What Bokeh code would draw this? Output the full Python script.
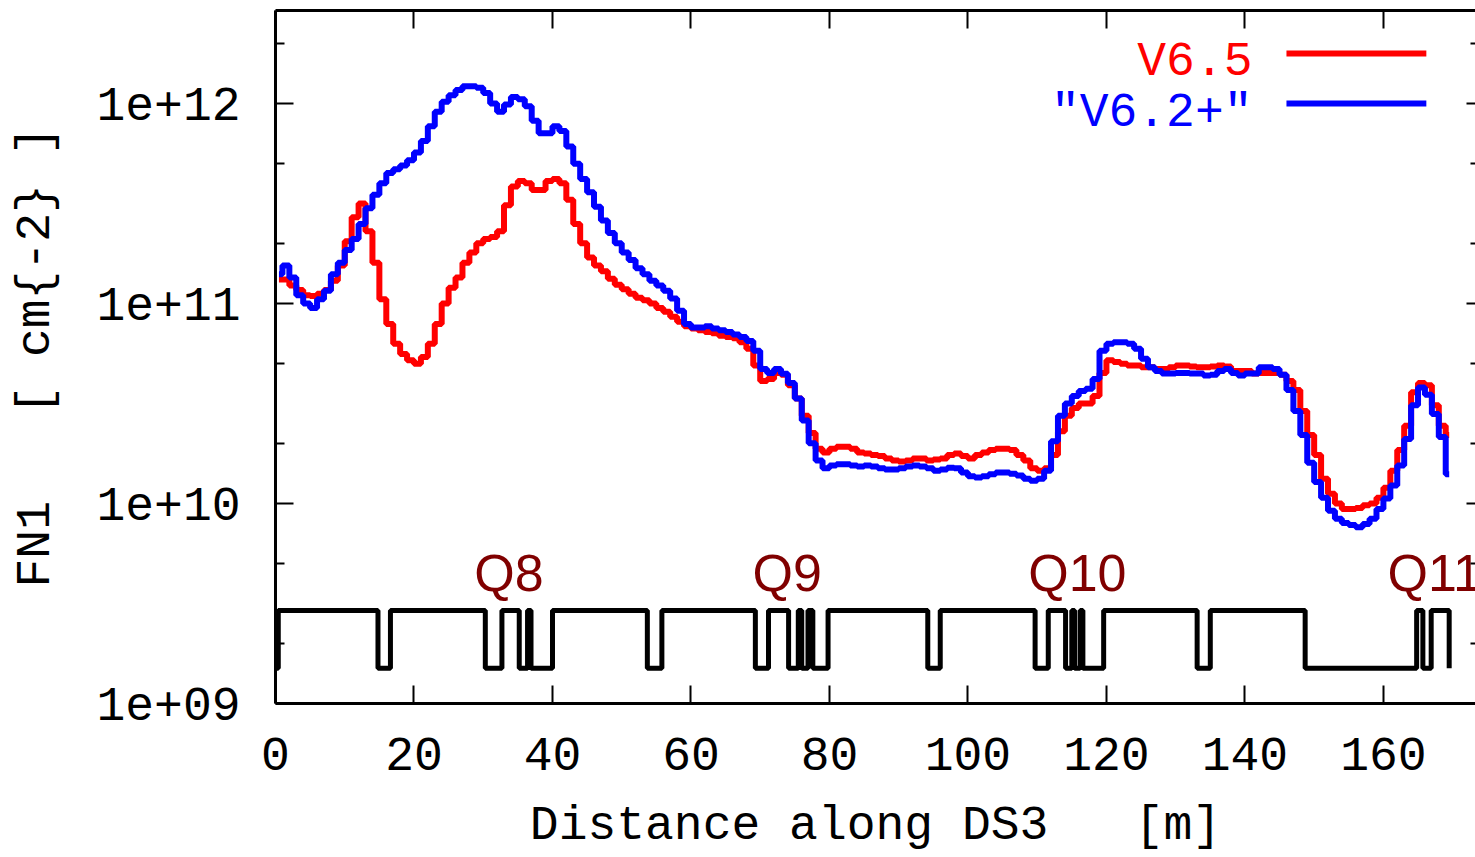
import numpy as np
from bokeh.plotting import figure
from bokeh.models import (Range1d, LinearAxis, LogAxis, FixedTicker,
                          CustomJSTickFormatter, Label)
from bokeh.core.properties import value
from bokeh.embed import file_html
from bokeh.resources import INLINE

# ---------------- data ----------------
# FN1 fluence per 1 m bin along DS3, bins 0..169 m
fn1_v65 = [
    1.32e11, 1.32e11, 1.23e11, 1.17e11, 1.10e11, 1.09e11, 1.12e11, 1.17e11, 1.30e11, 1.55e11,
    2.05e11, 2.70e11, 3.16e11, 2.30e11, 1.60e11, 1.05e11, 7.9e10, 6.3e10, 5.6e10, 5.2e10,
    5.0e10, 5.4e10, 6.3e10, 7.9e10, 1.0e11, 1.2e11, 1.35e11, 1.6e11, 1.8e11, 2.0e11,
    2.1e11, 2.15e11, 2.3e11, 3.1e11, 3.85e11, 4.1e11, 4.0e11, 3.7e11, 3.7e11, 4.1e11,
    4.2e11, 4.0e11, 3.3e11, 2.5e11, 2.0e11, 1.7e11, 1.55e11, 1.45e11, 1.33e11, 1.24e11,
    1.18e11, 1.12e11, 1.07e11, 1.04e11, 1.0e11, 9.5e10, 9.1e10, 8.6e10, 8.1e10, 7.7e10,
    7.5e10, 7.35e10, 7.2e10, 7.1e10, 6.9e10, 6.8e10, 6.7e10, 6.4e10, 5.95e10, 4.9e10,
    4.1e10, 4.2e10, 4.5e10, 4.4e10, 3.9e10, 3.35e10, 2.75e10, 2.25e10, 1.88e10, 1.8e10,
    1.88e10, 1.92e10, 1.92e10, 1.88e10, 1.8e10, 1.78e10, 1.75e10, 1.73e10, 1.68e10, 1.64e10,
    1.62e10, 1.64e10, 1.68e10, 1.68e10, 1.64e10, 1.66e10, 1.68e10, 1.75e10, 1.78e10, 1.73e10,
    1.68e10, 1.75e10, 1.8e10, 1.85e10, 1.88e10, 1.88e10, 1.85e10, 1.75e10, 1.64e10, 1.5e10,
    1.46e10, 1.5e10, 1.75e10, 2.3e10, 2.75e10, 3.0e10, 3.16e10, 3.16e10, 3.45e10, 4.5e10,
    5.2e10, 5.1e10, 5.0e10, 4.9e10, 4.9e10, 4.8e10, 4.8e10, 4.7e10, 4.7e10, 4.8e10,
    4.9e10, 4.9e10, 4.85e10, 4.8e10, 4.8e10, 4.85e10, 4.9e10, 4.85e10, 4.6e10, 4.6e10,
    4.6e10, 4.47e10, 4.5e10, 4.5e10, 4.5e10, 4.4e10, 4.1e10, 3.7e10, 2.9e10, 2.2e10,
    1.75e10, 1.33e10, 1.12e10, 1.0e10, 9.4e9, 9.4e9, 9.5e9, 9.8e9, 1.0e10, 1.07e10,
    1.2e10, 1.46e10, 1.85e10, 2.45e10, 3.6e10, 4.0e10, 3.9e10, 3.1e10, 2.45e10, 2.2e10,
]
fn1_v62 = [
    1.4e11, 1.55e11, 1.35e11, 1.1e11, 1.0e11, 9.5e10, 1.05e11, 1.16e11, 1.4e11, 1.6e11,
    1.85e11, 2.1e11, 2.5e11, 3.0e11, 3.5e11, 4.0e11, 4.5e11, 4.7e11, 4.9e11, 5.2e11,
    5.7e11, 6.5e11, 7.7e11, 9.1e11, 1.02e12, 1.1e12, 1.17e12, 1.22e12, 1.22e12, 1.2e12,
    1.13e12, 1.0e12, 9.1e11, 9.9e11, 1.08e12, 1.05e12, 9.7e11, 8.2e11, 7.1e11, 7.1e11,
    7.7e11, 7.3e11, 6.1e11, 5.0e11, 4.2e11, 3.6e11, 3.05e11, 2.6e11, 2.25e11, 2.0e11,
    1.8e11, 1.65e11, 1.5e11, 1.4e11, 1.3e11, 1.23e11, 1.16e11, 1.06e11, 9.2e10, 7.9e10,
    7.6e10, 7.6e10, 7.7e10, 7.5e10, 7.35e10, 7.2e10, 7.0e10, 6.8e10, 6.5e10, 5.8e10,
    4.7e10, 4.5e10, 4.7e10, 4.45e10, 4.0e10, 3.35e10, 2.6e10, 2.0e10, 1.64e10, 1.5e10,
    1.55e10, 1.57e10, 1.57e10, 1.55e10, 1.53e10, 1.55e10, 1.53e10, 1.5e10, 1.48e10, 1.48e10,
    1.5e10, 1.53e10, 1.55e10, 1.53e10, 1.5e10, 1.46e10, 1.48e10, 1.51e10, 1.5e10, 1.43e10,
    1.37e10, 1.35e10, 1.37e10, 1.4e10, 1.43e10, 1.43e10, 1.41e10, 1.38e10, 1.33e10, 1.3e10,
    1.33e10, 1.46e10, 2.05e10, 2.75e10, 3.16e10, 3.45e10, 3.65e10, 3.75e10, 4.2e10, 5.8e10,
    6.3e10, 6.4e10, 6.4e10, 6.3e10, 5.95e10, 5.3e10, 4.8e10, 4.6e10, 4.47e10, 4.47e10,
    4.5e10, 4.5e10, 4.47e10, 4.47e10, 4.37e10, 4.4e10, 4.6e10, 4.7e10, 4.5e10, 4.37e10,
    4.47e10, 4.47e10, 4.8e10, 4.8e10, 4.7e10, 4.4e10, 3.7e10, 2.9e10, 2.2e10, 1.6e10,
    1.28e10, 1.07e10, 9.2e9, 8.4e9, 8.0e9, 7.8e9, 7.6e9, 7.9e9, 8.4e9, 9.4e9,
    1.06e10, 1.23e10, 1.55e10, 2.1e10, 3.1e10, 3.8e10, 3.5e10, 2.8e10, 2.15e10, 1.4e10,
]
bin_width = 1.0  # m

# beamline layout: positions [m] where the schematic toggles between drift / magnet
layout_edges = [0.4, 14.8, 16.6, 30.3, 32.7, 35.2, 36.4, 36.9, 40.0, 53.7, 55.8,
                69.3, 71.2, 74.1, 75.5, 76.0, 76.9, 77.6, 79.8, 94.2, 96.0,
                109.7, 111.6, 114.1, 115.0, 115.4, 116.2, 116.6, 119.6, 133.1, 135.0,
                148.7, 164.8, 165.7, 166.9, 169.5]
layout_high = 2.92e9
layout_low = 1.5e9

quad_names = ["Q8", "Q9", "Q10", "Q11"]
quad_label_s = [28.7, 68.9, 108.7, 160.6]
quad_label_y = 4.5e9

x_ticks = [0, 20, 40, 60, 80, 100, 120, 140, 160]
y_ticks = [1e9, 1e10, 1e11, 1e12]
y_minor = [2e9, 5e9, 2e10, 5e10, 2e11, 5e11, 2e12]

series_names = ["V6.5", "\"V6.2+\""]
series_colors = ["#ff0000", "#0000ff"]

# ---------------- figure ----------------
FONT = "Liberation Mono"
FS = "48px"
NB = "\u00a0"

p = figure(width=1475, height=857,
           x_range=Range1d(0, 173.3), y_range=Range1d(1e9, 2.92e12),
           y_axis_type="log", output_backend="svg", toolbar_location=None,
           min_border_left=275, min_border_right=0, min_border_top=10,
           min_border_bottom=154)
p.outline_line_color = None
p.grid.visible = False
p.background_fill_color = "white"
p.border_fill_color = "white"

# layout schematic
lx, ly = [0.0], [layout_low]
state_high = False
for e in layout_edges:
    lx += [e, e]
    ly += [layout_high if state_high else layout_low,
           layout_low if state_high else layout_high]
    state_high = not state_high
p.line(lx, ly, line_color="black", line_width=5)

# quad labels
p.text(x=quad_label_s, y=[quad_label_y] * len(quad_names), text=quad_names,
       text_font=value("Liberation Sans"), text_font_size="52px",
       text_color="#800000", text_align="left", text_baseline="alphabetic")

# fluence histograms
centers = np.arange(len(fn1_v65)) * bin_width + bin_width / 2
for vals, col in zip([fn1_v65, fn1_v62], series_colors):
    p.step(centers, vals, mode="center", line_color=col, line_width=6)

# key (gnuplot style: label then sample to the right)
key_y_text = [1.62e12, 9.0e11]
key_y_line = [1.78e12, 1.0e12]
for name, col, yt, yl in zip(series_names, series_colors, key_y_text, key_y_line):
    p.add_layout(Label(x=141.1, y=yt, text=name, text_align="right",
                       text_baseline="middle", text_font=FONT,
                       text_font_size=FS, text_color=col))
    p.segment(x0=[146.0], x1=[166.2], y0=[yl], y1=[yl], line_color=col, line_width=6)

# ---------------- axes ----------------
xa = p.xaxis[0]
xa.ticker = FixedTicker(ticks=x_ticks)
xa.axis_label = "Distance along DS3" + NB * 3 + "[m]"
ya = p.yaxis[0]
ya.ticker = FixedTicker(ticks=y_ticks, minor_ticks=y_minor)
ya.formatter = CustomJSTickFormatter(code="""
    const e = Math.round(Math.log10(tick));
    return "1e+" + (e < 10 ? "0" + e : String(e));
""")
ya.axis_label = "FN1" + NB * 3 + "[" + NB + "cm{-2}" + NB + "]"

for ax in (xa, ya):
    ax.axis_line_width = 3
    ax.axis_line_color = "black"
    ax.major_tick_in = 18
    ax.major_tick_out = 0
    ax.major_tick_line_width = 2
    ax.minor_tick_in = 9
    ax.minor_tick_out = 0
    ax.minor_tick_line_width = 2
    ax.major_label_text_font = FONT
    ax.major_label_text_font_size = FS
    ax.major_label_text_color = "black"
    ax.axis_label_text_font = FONT
    ax.axis_label_text_font_size = FS
    ax.axis_label_text_font_style = "normal"
    ax.axis_label_text_color = "black"
xa.minor_tick_line_color = None
xa.major_label_standoff = 34
xa.axis_label_standoff = 26
ya.major_label_standoff = 35
ya.axis_label_standoff = 30

empty = CustomJSTickFormatter(code="return '';")
top = LinearAxis(ticker=FixedTicker(ticks=x_ticks), formatter=empty,
                 axis_line_width=3, major_tick_in=18, major_tick_out=0,
                 major_tick_line_width=2, minor_tick_line_color=None,
                 major_label_standoff=0, major_label_text_font_size="1px")
p.add_layout(top, "above")
right = LogAxis(ticker=FixedTicker(ticks=y_ticks, minor_ticks=y_minor), formatter=empty,
                axis_line_color=None, major_tick_in=9, major_tick_out=0,
                major_tick_line_width=2, minor_tick_in=5, minor_tick_out=0,
                minor_tick_line_width=2, major_label_standoff=0,
                major_label_text_font_size="1px")
p.add_layout(right, "right")

open("out.html", "w").write(file_html(p, INLINE))
